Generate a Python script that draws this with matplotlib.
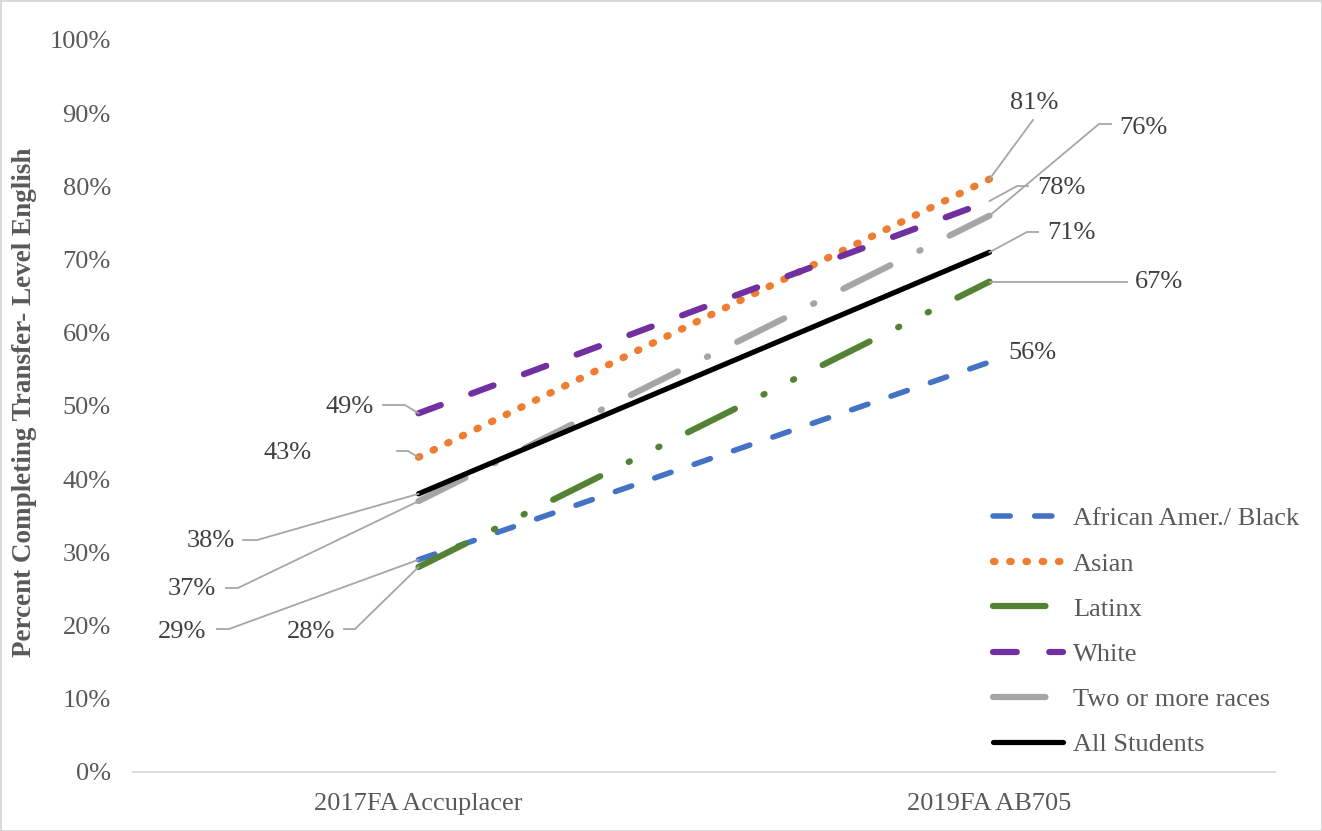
import matplotlib.pyplot as plt
from matplotlib.lines import Line2D
from matplotlib.transforms import IdentityTransform

plt.rcParams['font.family'] = ['Liberation Serif', 'DejaVu Serif']

# Completion rates (%) for each group
terms = ["2017FA Accuplacer", "2019FA AB705"]
groups = ["African Amer./ Black", "Asian", "Latinx", "White",
          "Two or more races", "All Students"]
black = [29, 56]
asian = [43, 81]
latinx = [28, 67]
white = [49, 78]
multi = [37, 76]
all_students = [38, 71]
series = [black, asian, latinx, white, multi, all_students]

colors = ["#4472C4", "#ED7D31", "#548235", "#7030A0", "#A5A5A5", "#000000"]
widths = [4.0, 5.2, 4.5, 4.5, 4.5, 3.75]
styles = [
    (0, (3.1, 4.4)),
    (0, (0.2, 2.05)),
    (0, (8.4, 5.1, 0.2, 5.1, 0.2, 5.1)),
    (0, (3.8, 5.2)),
    (0, (8.4, 5.2, 0.2, 5.2)),
    "-",
]

# label placement in pixels relative to each point: text offset, leader vertices
start_labels = [
    ((-236.5, -72.3), [(-201.5, -69.3), (-189.5, -69.3)]),
    ((-131.0, 4.2), [(-21.5, 6.2), (-10.5, 6.2)]),
    ((-107.5, -65.0), [(-74.5, -62.0), (-63.5, -62.0)]),
    ((-68.5, 6.3), [(-35.5, 8.3), (-13.5, 8.3)]),
    ((-226.5, -87.8), [(-192.5, -86.8), (-180.5, -86.8)]),
    ((-207.5, -47.2), [(-175.5, -46.2), (-161.5, -46.2)]),
]
end_labels = [
    ((42.5, 9.0), []),
    ((44.5, 76.0), [(43.5, 59.1)]),
    ((169.5, -0.4), [(137.5, 0.0)]),
    ((71.5, 13.0), [(38.5, 15.0), (27.5, 15.0)]),
    ((153.5, 87.5), [(121.5, 91.7), (109.5, 91.7)]),
    ((81.5, 19.3), [(48.5, 20.3), (37.5, 20.3)]),
]

text_color = "#404040"
tick_color = "#595959"
leader_color = "#A6A6A6"

fig = plt.figure(figsize=(13.22, 8.31), dpi=100)
fig.patch.set_edgecolor("#D9D9D9")
fig.patch.set_linewidth(2)
ax = fig.add_axes([133 / 1322, 59 / 831, 1142 / 1322, 732 / 831])

x = range(len(terms))
for vals, name, c, lw, ls in zip(series, groups, colors, widths, styles):
    ax.plot(x, vals, color=c, lw=lw, linestyle=ls, label=name,
            dash_capstyle="round", solid_capstyle="round")

ax.set_xlim(-0.5, 1.5)
ax.set_ylim(0, 100)
ax.set_yticks(range(0, 101, 10))
ax.set_yticklabels([f"{t}%" for t in range(0, 101, 10)])
ax.set_xticks(list(x))
ax.set_xticklabels(terms)
ax.tick_params(axis="both", length=0, labelsize=19, labelcolor=tick_color)
ax.tick_params(axis="y", pad=16)
ax.tick_params(axis="x", pad=15)
for s in ["left", "top", "right"]:
    ax.spines[s].set_visible(False)
ax.spines["bottom"].set_color("#D9D9D9")
ax.spines["bottom"].set_linewidth(1.3)

ax.set_ylabel("Percent Completing Transfer- Level English", fontsize=19.5,
              fontweight="bold", color=tick_color)
ax.yaxis.set_label_coords(-0.084, 0.505)

# data labels with leader lines
for idx, layout in ((0, start_labels), (1, end_labels)):
    for vals, (toff, leader) in zip(series, layout):
        v = vals[idx]
        ax.annotate(f"{v}%", xy=(idx, v), xytext=toff, textcoords="offset pixels",
                    ha="center", va="center", fontsize=19, color=text_color)
        if leader:
            px, py = ax.transData.transform((idx, v))
            xs = [px + dx for dx, _ in leader] + [px]
            ys = [py + dy for _, dy in leader] + [py]
            fig.add_artist(Line2D(xs, ys, transform=IdentityTransform(),
                                  color=leader_color, lw=1.3))

leg = ax.legend(loc="upper left", bbox_to_anchor=(0.753, 0.362), frameon=False,
                fontsize=19, handlelength=2.65, handletextpad=0.38,
                labelspacing=0.82, borderpad=0, borderaxespad=0)
for t in leg.get_texts():
    t.set_color(tick_color)

fig.savefig("out.png", dpi=100)
